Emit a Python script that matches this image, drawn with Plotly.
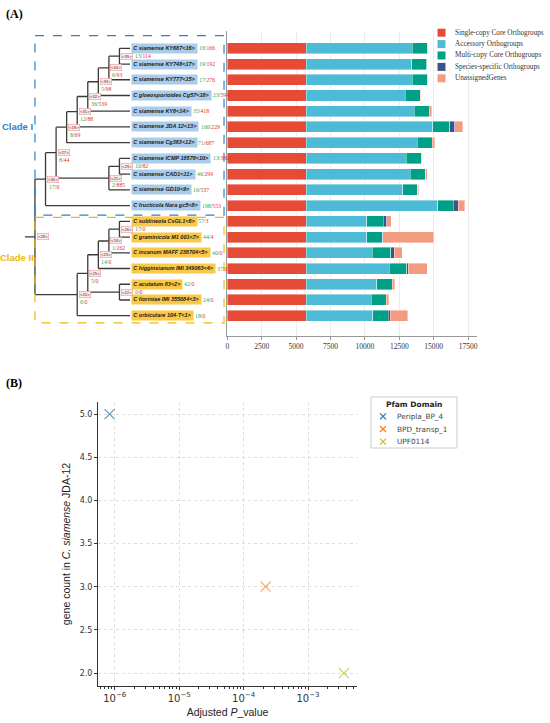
import plotly.graph_objects as go

# ---- panel A data: orthogroup composition per genome (top to bottom) ----
leaf_names = [
    "C siamense KY687<16>", "C siamense KY748<17>", "C siamense KY777<15>",
    "C gloeosporioides Cg57<18>", "C siamense KY8<14>", "C siamense JDA 12<13>",
    "C siamense Cg363<12>", "C siamense ICMP 18578<10>", "C siamense CAD1<11>",
    "C siamense GD10<9>", "C fructicola Nara gc5<8>", "C sublineola CsGL1<6>",
    "C graminicola M1 001<7>", "C incanum MAFF 238704<5>", "C higginsianum IMI 349063<4>",
    "C acutatum 83<2>", "C fioriniae IMI 355084<3>", "C orbiculare 104-T<1>",
]
gained = [16, 19, 17, 23, 35, 166, 71, 13, 46, 16, 198, 57, 44, 40, 37, 42, 24, 18]
lost = [166, 192, 276, 594, 418, 229, 687, 380, 299, 537, 553, 3, 4, 0, 0, 0, 0, 0]
clade_one = list(range(0, 11))
clade_two = list(range(11, 18))

single_copy = [5720] * 18
accessory = [7725, 7679, 7725, 7218, 7848, 9205, 8088, 7267, 7580, 7027, 9570,
             4411, 4411, 4818, 6053, 5138, 4724, 4847]
multi_copy = [1090, 1112, 1090, 1090, 1113, 1259, 1090, 1112, 1119, 1090, 1135,
              1206, 1134, 1336, 1265, 1134, 1090, 1134]
species_specific = [12, 12, 12, 12, 12, 363, 12, 12, 12, 12, 341,
                    247, 20, 241, 94, 12, 12, 123]
unassigned = [15, 20, 15, 30, 170, 558, 171, 20, 92, 48, 486,
              313, 3735, 581, 1381, 174, 196, 1286]

series_names = ["Single-copy Core Orthogroups", "Accessory Orthogroups",
                "Multi-copy Core Orthogroups", "Species-specific Orthogroups",
                "UnassignedGenes"]
series_vals = [single_copy, accessory, multi_copy, species_specific, unassigned]
series_cols = ["#E64B35", "#4DBBD5", "#00A087", "#3C5488", "#F39B7F"]

# tree topology (ints are leaf rows)
children = {
    "root": ["c1", "c2"],
    "c1": ["n27", 10],
    "n27": ["cg363", "icmpg"],
    "cg363": ["jda", 6],
    "jda": ["ky8", 5],
    "ky8": ["cg57", 4],
    "cg57": ["ky777", 3],
    "ky777": ["ky687", 2],
    "ky687": [0, 1],
    "icmpg": ["icmp", 9],
    "icmp": [7, 8],
    "c2": ["n25", 17],
    "n25": ["higg", "acu"],
    "higg": ["inc", 14],
    "inc": ["subl", 13],
    "subl": [11, 12],
    "acu": [15, 16],
}
node_tag = {"root": 28, "c1": 30, "n27": 27, "cg363": 19, "jda": 31, "ky8": 32,
            "cg57": 33, "ky777": 34, "ky687": 35, "icmpg": 21, "icmp": 29,
            "c2": 20, "n25": 25, "higg": 23, "inc": 24, "subl": 26, "acu": 22}
node_counts = {"c1": (17, 0), "n27": (8, 44), "cg363": (8, 69), "jda": (12, 88),
               "ky8": (36, 539), "cg57": (5, 98), "ky777": (6, 93), "ky687": (13, 114),
               "icmpg": (2, 885), "icmp": (10, 82), "c2": (6, 0), "n25": (5, 0),
               "higg": (14, 0), "inc": (1, 262), "subl": (17, 0), "acu": (0, 0)}

# ---- panel B data ----
domains = ["Peripla_BP_4", "BPD_transp_1", "UPF0114"]
p_adj = [8.3e-7, 2.2e-4, 3.6e-3]
gene_count = [5, 3, 2]
dom_cols = ["#1f77b4", "#ff7f0e", "#bcbd22"]

GREEN = "#22B14C"
RED = "#E8302A"
W, H = 550, 723

# approx Arial-bold advance widths (em)
CHAR_W = {" ": .278, "i": .278, "l": .278, "j": .278, "I": .278, "f": .333, "t": .333,
          "r": .389, "-": .333, "m": .889, "w": .778, "<": .584, ">": .584,
          "C": .722, "K": .722, "D": .722, "A": .722, "N": .722, "H": .722, "R": .722,
          "G": .778, "M": .833, "Y": .667, "P": .667, "S": .667, "E": .667, "T": .611,
          "F": .611, "J": .556, "b": .611, "d": .611, "g": .611, "h": .611, "n": .611,
          "o": .611, "p": .611, "q": .611, "u": .611, "z": .5}


def height(n):
    if isinstance(n, int):
        return 0
    return 1 + max(height(c) for c in children[n])


def ypos(n):
    if isinstance(n, int):
        return n
    ch = children[n]
    return (ypos(ch[0]) + ypos(ch[-1])) / 2


def xpos(n):
    return -height(n)


def text_w(s, size):
    return sum(CHAR_W.get(ch, .556) for ch in s) * size


def counts_html(g, l):
    return (f"<span style='color:{GREEN}'>{g}</span>"
            f"<span style='color:{RED}'>/{l}</span>")


fig = go.Figure()

# stacked bars
for name, vals, col in zip(series_names, series_vals, series_cols):
    fig.add_trace(go.Bar(
        y=list(range(len(vals))), x=vals, orientation="h", name=name,
        width=0.7, marker=dict(color=col, line=dict(color="white", width=0.4)),
        showlegend=False, hoverinfo="skip",
    ))

# tree lines
xs, ys = [], []
for node, ch in children.items():
    nx = xpos(node)
    xs += [nx, nx, None]
    ys += [ypos(ch[0]), ypos(ch[-1]), None]
    for c in ch:
        xs += [nx, xpos(c), None]
        ys += [ypos(c), ypos(c), None]
xs += [xpos("root") - 0.95, xpos("root"), None]
ys += [ypos("root"), ypos("root"), None]
fig.add_trace(go.Scatter(x=xs, y=ys, mode="lines", xaxis="x2", yaxis="y",
                         line=dict(color="#3a3a3a", width=1.3),
                         showlegend=False, hoverinfo="skip"))

PX_PER_UNIT = 10.56
LEAF_FS = 5.5
annotations = []
for i, nm in enumerate(leaf_names):
    bg = "#A9CCEB" if i in clade_one else "#F9C846"
    safe = nm.replace("<", "&lt;").replace(">", "&gt;")
    annotations.append(dict(
        x=0.12, y=i, xref="x2", yref="y", xanchor="left", yanchor="middle",
        text=f"<b><i>{safe}</i></b>", showarrow=False, bgcolor=bg, borderpad=1.3,
        font=dict(family="Liberation Sans", size=LEAF_FS, color="#1a1a1a"),
    ))
    wx = 0.12 + (text_w(nm, LEAF_FS) + 4) / PX_PER_UNIT
    annotations.append(dict(
        x=wx, y=i, xref="x2", yref="y", xanchor="left", yanchor="middle",
        text=counts_html(gained[i], lost[i]), showarrow=False,
        font=dict(family="Liberation Serif", size=5.8),
    ))

for node in children:
    nx, ny = xpos(node), ypos(node)
    annotations.append(dict(
        x=nx + 0.15, y=ny, xref="x2", yref="y", xanchor="left", yanchor="middle",
        text=f"&lt;{node_tag[node]}&gt;", showarrow=False,
        bgcolor="#FDEAEA", bordercolor="#EE9A9A", borderwidth=0.6, borderpad=0.5,
        font=dict(family="Liberation Sans", size=4.2, color="#333"),
    ))
    if node in node_counts:
        g, l = node_counts[node]
        if height(node) == 1:
            cx, cy = nx + 1.3, ny
        else:
            cx, cy = nx + 0.1, ny + 0.47
        annotations.append(dict(
            x=cx, y=cy, xref="x2", yref="y", xanchor="left", yanchor="middle",
            text=counts_html(g, l), showarrow=False,
            font=dict(family="Liberation Serif", size=5.8),
        ))

# clade boxes and labels
shapes = []
for rows, col in [(clade_one, "#2F7FD0"), (clade_two, "#F5B800")]:
    shapes.append(dict(
        type="rect", xref="x2", yref="y", x0=xpos("root"), x1=8.9,
        y0=rows[0] - (0.8 if rows[0] == 0 else 0.25),
        y1=rows[-1] + (0.45 if rows is clade_two else 0.6),
        line=dict(color=col, width=1.2, dash="dash"), fillcolor="rgba(0,0,0,0)",
    ))
annotations.append(dict(x=-10.7, y=5.0, xref="x2", yref="y", text="<b>Clade I</b>",
                        showarrow=False, font=dict(family="Liberation Sans", size=9.5,
                                                   color="#2F7FD0")))
annotations.append(dict(x=-10.7, y=13.3, xref="x2", yref="y", text="<b>Clade II</b>",
                        showarrow=False, font=dict(family="Liberation Sans", size=9.5,
                                                   color="#F5B800")))

# manual compact legend for panel A
for i, (name, col) in enumerate(zip(series_names, series_cols)):
    cy = 32.7 + 11.4 * i
    shapes.append(dict(type="rect", xref="paper", yref="paper",
                       x0=437.5 / W, x1=445.5 / W, y0=1 - (cy + 4) / H, y1=1 - (cy - 4) / H,
                       fillcolor=col, line=dict(width=0)))
    annotations.append(dict(x=453 / W, y=1 - cy / H, xref="paper", yref="paper",
                            xanchor="left", yanchor="middle", text=name, showarrow=False,
                            font=dict(family="Liberation Serif", size=7.2, color="#333")))

# panel B scatter
for d, p, g, c in zip(domains, p_adj, gene_count, dom_cols):
    fig.add_trace(go.Scatter(
        x=[p], y=[g], mode="markers", name=d, xaxis="x3", yaxis="y3",
        marker=dict(symbol="x-thin", size=10, opacity=0.75,
                    line=dict(color=c, width=1.1)),
        showlegend=False, hoverinfo="skip",
    ))

# manual legend for panel B
shapes.append(dict(type="rect", xref="paper", yref="paper", x0=371 / W, x1=457 / W,
                   y0=1 - 448 / H, y1=1 - 397 / H, fillcolor="white", layer="below",
                   line=dict(color="#cccccc", width=1)))
annotations.append(dict(x=414 / W, y=1 - 404.5 / H, xref="paper", yref="paper",
                        xanchor="center", yanchor="middle", text="<b>Pfam Domain</b>",
                        showarrow=False,
                        font=dict(family="DejaVu Sans", size=7.5, color="#222")))
fig.add_trace(go.Scatter(
    x=[0.5] * len(domains), y=[i + 0.5 for i in range(len(domains))], mode="markers",
    xaxis="x4", yaxis="y4", showlegend=False, hoverinfo="skip",
    marker=dict(symbol="x-thin", size=6, line=dict(color=dom_cols, width=1.2)),
))
for i, d in enumerate(domains):
    annotations.append(dict(x=395 / W, y=i + 0.5, xref="paper", yref="y4",
                            xanchor="left", yanchor="middle", text=d, showarrow=False,
                            font=dict(family="DejaVu Sans", size=7.3, color="#444")))

annotations.append(dict(x=0.008, y=1 - 14 / H, xref="paper", yref="paper",
                        xanchor="left", yanchor="middle", text="<b>(A)</b>",
                        showarrow=False,
                        font=dict(family="Liberation Serif", size=12, color="black")))
annotations.append(dict(x=0.008, y=1 - 383 / H, xref="paper", yref="paper",
                        xanchor="left", yanchor="middle", text="<b>(B)</b>",
                        showarrow=False,
                        font=dict(family="Liberation Serif", size=12, color="black")))

serif = dict(family="Liberation Serif", size=7.5, color="#333")
dv = dict(family="DejaVu Sans", size=8, color="#333")

fig.update_layout(
    template="none",
    width=W, height=H, margin=dict(l=0, r=0, t=0, b=0, autoexpand=False),
    paper_bgcolor="white", plot_bgcolor="rgba(0,0,0,0)", barmode="stack",
    showlegend=False, annotations=annotations, shapes=shapes,
    xaxis=dict(domain=[227.3 / W, 476.7 / W], range=[0, 18125], dtick=2500,
               tickformat="d", showgrid=True, gridcolor="#ececec", gridwidth=0.8,
               showline=True, linecolor="#999", ticks="outside", ticklen=3,
               tickcolor="#999", tickfont=serif, zeroline=False, anchor="y",
               automargin=False),
    yaxis=dict(domain=[1 - 336 / H, 1 - 31 / H], range=[18.29, -1.1],
               showticklabels=False, showgrid=False, zeroline=False, ticks="",
               showline=True, linecolor="#999", anchor="x", automargin=False),
    xaxis2=dict(domain=[0, 227.3 / W], range=[-12.31, 9.21], visible=False,
                anchor="y", automargin=False),
    xaxis3=dict(domain=[98 / W, 357 / W], type="log", range=[-6.26, -2.24],
                dtick=1, exponentformat="power", showexponent="all",
                showgrid=True, gridcolor="#dddddd", griddash="dot", gridwidth=0.8,
                showline=True, linecolor="#333", ticks="outside", ticklen=3,
                tickcolor="#333", tickfont=dv, zeroline=False, mirror=False,
                minor=dict(ticks="outside", ticklen=1.5, dtick="D1", tickcolor="#333",
                           showgrid=False),
                title=dict(text="Adjusted <i>P</i>_value", standoff=6,
                           font=dict(family="Liberation Sans", size=10.5, color="#222")),
                anchor="y3", automargin=False),
    yaxis3=dict(domain=[1 - 686 / H, 1 - 402 / H], range=[1.85, 5.14], dtick=0.5,
                tickformat=".1f", showgrid=True, gridcolor="#dddddd", griddash="dot",
                gridwidth=0.8, showline=True, linecolor="#333", ticks="outside",
                ticklen=3, tickcolor="#333", tickfont=dv, zeroline=False, mirror=False,
                title=dict(text="gene count in <i>C. siamense</i> JDA-12", standoff=6,
                           font=dict(family="Liberation Sans", size=10.5, color="#222")),
                anchor="x3", automargin=False),
    xaxis4=dict(domain=[376 / W, 390 / W], range=[0, 1], visible=False, anchor="y4"),
    yaxis4=dict(domain=[1 - 448 / H, 1 - 410 / H], range=[3, 0], visible=False,
                anchor="x4"),
)

fig.write_html("out.html", post_script="document.body.style.margin='0';",
               config={"displayModeBar": False})
